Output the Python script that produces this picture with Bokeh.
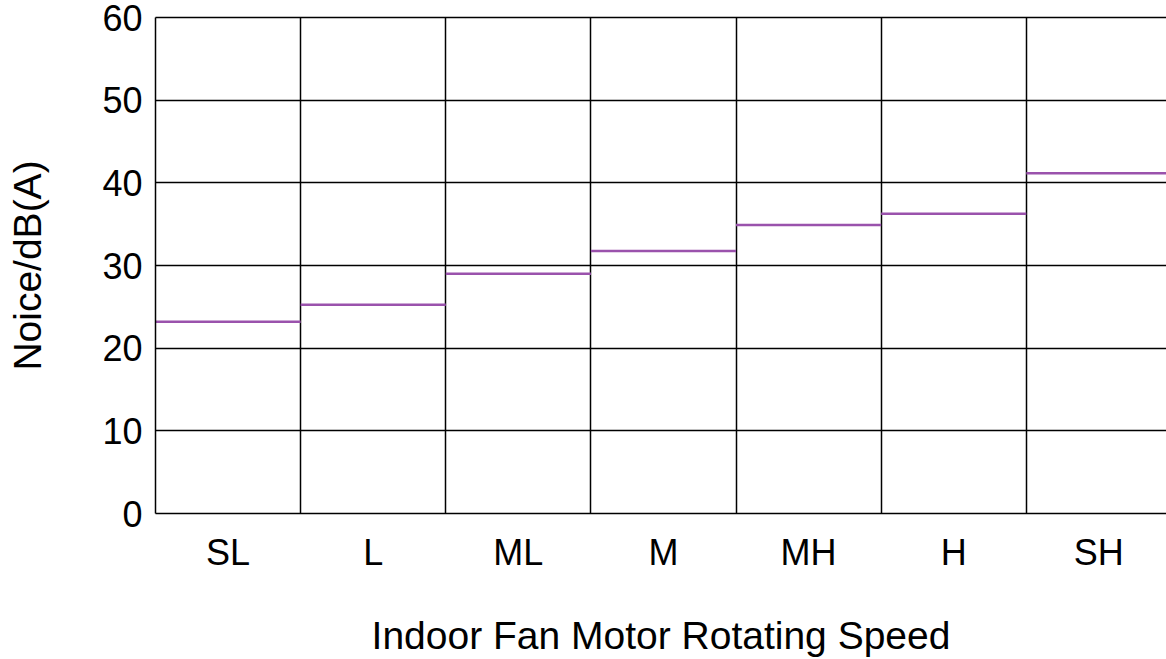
from bokeh.plotting import figure
from bokeh.models import Range1d, FixedTicker, Grid, ColumnDataSource, LinearAxis
from bokeh.embed import file_html
from bokeh.resources import INLINE

categories = ["SL", "L", "ML", "M", "MH", "H", "SH"]
noise_db = [23.2, 25.25, 29.0, 31.75, 34.9, 36.25, 41.15]
y_ticks = [0, 10, 20, 30, 40, 50, 60]

idx = list(range(len(categories)))
src = ColumnDataSource(dict(
    x0=[i for i in idx],
    x1=[i + 1 for i in idx],
    y=noise_db,
))

FONT = "Liberation Sans"

p = figure(width=1166, height=659, output_backend="svg", toolbar_location=None,
           x_range=Range1d(0, 6.966), y_range=Range1d(0, 60),
           min_border_left=155, min_border_right=0, min_border_top=17, min_border_bottom=145)
p.outline_line_color = None
p.background_fill_color = "white"

p.segment(x0="x0", x1="x1", y0="y", y1="y", source=src,
          line_color="#9A52AC", line_width=2.5)

# axes
p.xaxis.ticker = FixedTicker(ticks=[i + 0.5 for i in idx])
p.xaxis.major_label_overrides = {i + 0.5: c for i, c in zip(idx, categories)}
p.yaxis.ticker = FixedTicker(ticks=y_ticks)

for ax in (p.xaxis[0], p.yaxis[0]):
    ax.axis_line_color = "black"
    ax.axis_line_width = 1.5
    ax.major_tick_line_color = None
    ax.minor_tick_line_color = None
    ax.major_tick_in = 0
    ax.major_tick_out = 0
    ax.major_label_text_font = FONT
    ax.major_label_text_font_size = "36px"
    ax.major_label_text_color = "black"
    ax.axis_label_text_font = FONT
    ax.axis_label_text_font_size = "39px"
    ax.axis_label_text_font_style = "normal"
    ax.axis_label_text_color = "black"

p.xaxis.axis_label = "Indoor Fan Motor Rotating Speed"
p.yaxis.axis_label = "Noice/dB(A)"
p.xaxis.major_label_standoff = 18
p.yaxis.major_label_standoff = 13
p.xaxis.axis_label_standoff = 38
p.yaxis.axis_label_standoff = 50

# top frame line
top = LinearAxis(ticker=FixedTicker(ticks=[]), axis_line_color="black", axis_line_width=1.5,
                 major_tick_line_color=None, minor_tick_line_color=None)
p.add_layout(top, "above")

# grids
p.xgrid.visible = False
p.ygrid.grid_line_color = "black"
p.ygrid.grid_line_width = 1.5
p.ygrid.ticker = FixedTicker(ticks=y_ticks)
vgrid = Grid(dimension=0, ticker=FixedTicker(ticks=[1, 2, 3, 4, 5, 6]),
             grid_line_color="black", grid_line_width=1.5)
p.add_layout(vgrid)

open("out.html", "w").write(file_html(p, INLINE))
